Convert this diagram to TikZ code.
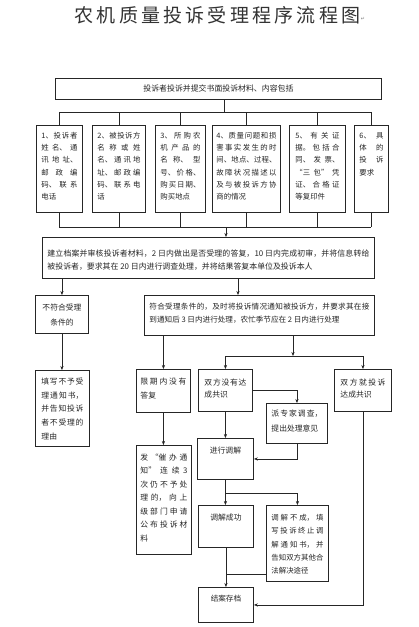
\documentclass[tikz,border=0pt]{standalone}
\usepackage{fontspec}
\setmainfont{Noto Sans CJK SC}
\newfontfamily\titlefont[LetterSpace=17]{Noto Sans CJK SC}
\newfontfamily\symfont{DejaVu Sans}
\usetikzlibrary{arrows.meta}
\XeTeXlinebreaklocale "zh"
\XeTeXlinebreakskip=0pt plus 2pt
\newcommand\fs[2]{\fontsize{#1}{#2}\selectfont}
\newcommand\st{\leavevmode\rule{0pt}{7pt}}
\tikzset{
  boxst/.style={draw=black!85, line width=0.9pt, text=black!85},
  ln/.style={draw=black!85, line width=0.6pt},
  arr/.style={ln, -{Stealth[length=4pt,width=3.2pt]}}
}
% name, x1, y1, x2, y2, padx, padtop, content
\newcommand\tbox[8]{%
  \node[boxst, anchor=north west, inner sep=0pt] (#1) at (#2,#3)
  {\vbox to \dimexpr #5pt-#3pt\relax{\kern #7pt\hbox to \dimexpr #4pt-#2pt\relax{\kern #6pt\parbox[t]{\dimexpr #4pt-#2pt-#6pt-#6pt\relax}{\tolerance=10000 #8}\hss}\vss}};}
\begin{document}
\begin{tikzpicture}[x=1pt,y=-1pt]
\useasboundingbox[fill=white] (0,0) rectangle (419,627);
% title
\node[text=black!80] (title) at (217.5,15.5) {\titlefont\fontsize{19}{22}\selectfont 农机质量投诉受理程序流程图};
\node[text=black!50, inner sep=0pt] (pm) at (363,19) {\symfont\fontsize{5}{5}\selectfont ↵};
% top box
\tbox{t}{55}{78}{381}{99}{4}{6}{\fs{7.9}{12}\centering\st 投诉者投诉并提交书面投诉材料、内容包括}
% row of six
\tbox{b1}{36}{125}{82}{212}{5}{6}{\fs{7.4}{12.2}\st 1、投诉者\linebreak 姓名、通\linebreak 讯地址、\linebreak 邮政编\linebreak 码、联系\linebreak 电话}
\tbox{b2}{92}{125}{145}{212}{5}{6}{\fs{7.4}{12.2}\st 2、被投诉方\linebreak 名称或姓\linebreak 名、通讯地\linebreak 址、邮政编\linebreak 码、联系电\linebreak 话}
\tbox{b3}{155}{125}{205}{212}{5}{6}{\fs{7.4}{12.2}\st 3、所购农\linebreak 机产品的\linebreak 名称、型\linebreak 号、价格、\linebreak 购买日期、\linebreak 购买地点}
\tbox{b4}{212}{125}{280}{212}{4}{6}{\fs{7.4}{12.2}\st 4、质量问题和损\linebreak 害事实发生的时\linebreak 间、地点、过程、\linebreak 故障状况描述以\linebreak 及与被投诉方协\linebreak 商的情况}
\tbox{b5}{289}{125}{345}{212}{6}{6}{\fs{7.4}{12.2}\st 5、有关证\linebreak 据。包括合\linebreak 同、发票、\linebreak “三包”凭\linebreak 证、合格证\linebreak 等复印件}
\tbox{b6}{354}{125}{388}{212}{5}{6}{\fs{7.4}{12.2}\st 6、具\linebreak 体的\linebreak 投诉\linebreak 要求}
% record box
\tbox{r}{42}{237}{374}{278}{5}{12}{\fs{7.9}{13}\st 建立档案并审核投诉者材料，2 日内做出是否受理的答复，10 日内完成初审，并将信息转给\linebreak 被投诉者，要求其在 20 日内进行调查处理，并将结果答复本单位及投诉本人}
% branches
\tbox{n1}{35}{295}{88}{333}{3}{8}{\fs{7.8}{15}\centering\st 不符合受理\\条件的}
\tbox{y1}{144}{295}{374}{335}{5}{7}{\fs{7.6}{13}\st 符合受理条件的，及时将投诉情况通知被投诉方，并要求其在接\linebreak 到通知后 3 日内进行处理，农忙季节应在 2 日内进行处理}
\tbox{n2}{35}{370}{89}{446}{6}{7}{\fs{7.8}{13.7}\st 填写不予受\linebreak 理通知书，\linebreak 并告知投诉\linebreak 者不受理的\linebreak 理由}
\tbox{p1}{136}{369}{190}{412}{4}{8}{\fs{7.8}{14}\st 限期内没有\linebreak 答复}
\tbox{p2}{136}{445}{191}{554}{4}{8}{\fs{7.8}{13.5}\st 发“催办通\linebreak 知”连续 3\linebreak 次仍不予处\linebreak 理的，向上\linebreak 级部门申请\linebreak 公布投诉材\linebreak 料}
\tbox{q1}{198}{369}{252}{411}{6}{9}{\fs{7.8}{12.5}\st 双方没有达\linebreak 成共识}
\tbox{e1}{266}{403}{327}{443}{5}{6}{\fs{7.8}{15}\st 派专家调查，\linebreak 提出处理意见}
\tbox{m}{197}{438}{253}{479}{3}{8}{\fs{7.8}{13}\centering\st 进行调解}
\tbox{s1}{334}{369}{391}{411}{6}{9}{\fs{7.8}{12.5}\st 双方就投诉\linebreak 达成共识}
\tbox{k1}{198}{505}{253}{547}{3}{8}{\fs{7.8}{13}\centering\st 调解成功}
\tbox{k2}{266}{505}{328}{581}{5}{8}{\fs{7.4}{13.3}\st 调解不成，填\linebreak 写投诉终止调\linebreak 解通知书，并\linebreak 告知双方其他合\linebreak 法解决途径}
\tbox{z}{198}{587}{253}{622}{3}{7}{\fs{7.6}{13}\centering\st 结案存档}
% connectors: top bus
\coordinate (j1) at (224,112);
\draw[ln] (t.south -| j1) -- (j1);
\draw[ln] (b1.north |- j1) -- (b6.north |- j1);
\foreach \b in {b1,b2,b3,b4,b5,b6} \draw[ln] (\b.north |- j1) -- (\b.north);
% bottom bus
\coordinate (j2) at (226,227);
\foreach \b in {b1,b2,b3,b4,b5,b6} \draw[ln] (\b.south) -- (\b.south |- j2);
\draw[ln] (b1.south |- j2) -- (b6.south |- j2);
\draw[arr] (j2) -- (j2 |- r.north);
% from record box
\draw[arr] (r.south -| n1.north) -- (n1.north);
\coordinate (j3) at (238,300);
\draw[arr] (r.south -| j3) -- (j3 |- y1.north);
\draw[arr] (n1.south) -- (n1.south |- n2.north);
\draw[arr] (y1.south -| p1.north) -- (p1.north);
\coordinate (j4) at (293,356);
\draw[arr] (y1.south -| j4) -- (j4);
\draw[ln] (q1.north |- j4) -- (s1.north |- j4);
\draw[arr] (q1.north |- j4) -- (q1.north);
\draw[arr] (s1.north |- j4) -- (s1.north);
\draw[arr] (p1.south) -- (p1.south |- p2.north);
\draw[arr] (q1.east) -| (e1.north);
\draw[arr] (q1.south) -- (q1.south |- m.north);
\draw[arr] (e1.south) |- (m.east);
\coordinate (j6) at (226,493);
\draw[ln] (m.south) -- (m.south |- j6);
\draw[arr] (m.south |- j6) -- (m.south |- k1.north);
\draw[arr] (m.south |- j6) -| (k2.north);
\draw[arr] (k1.south) -- (k1.south |- z.north);
\coordinate (j7) at (260,574);
\draw[ln] (k2.west |- j7) -- (k1.south |- j7);
\draw[arr] (s1.south) |- (z.east);
\end{tikzpicture}
\end{document}
